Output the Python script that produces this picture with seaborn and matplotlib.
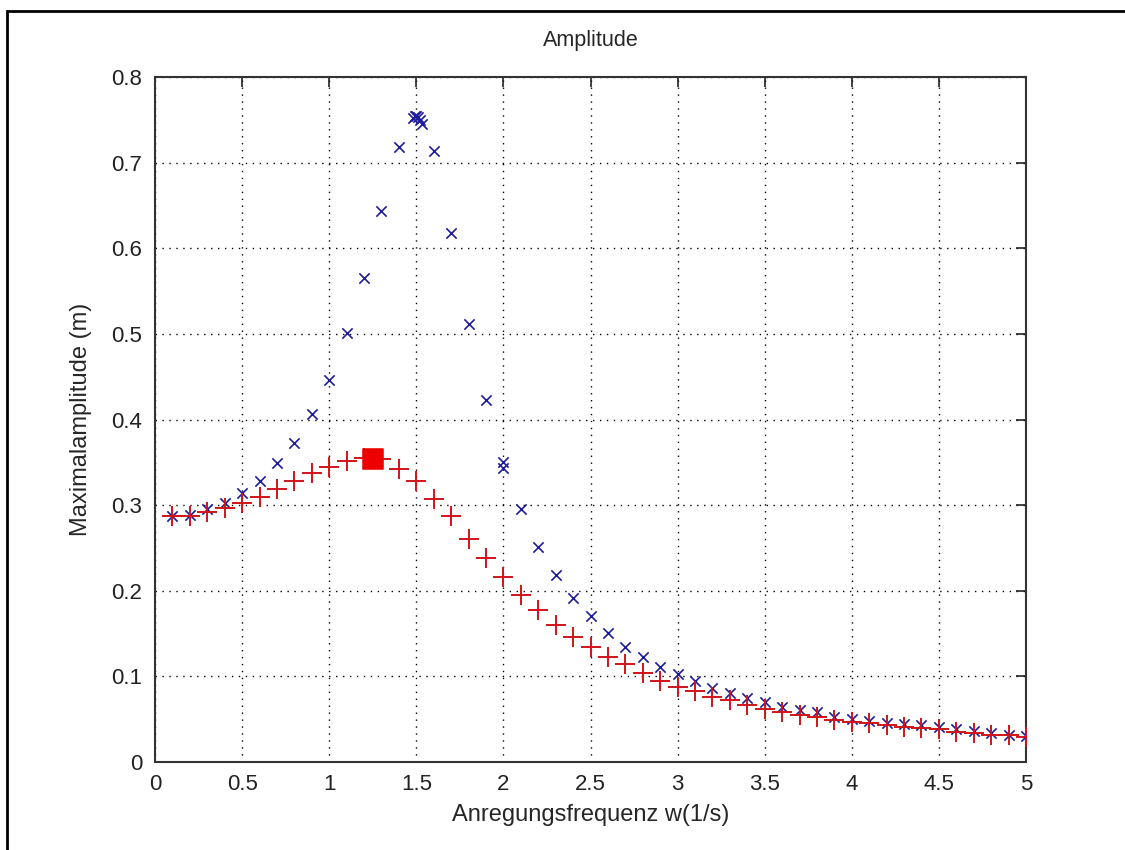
import numpy as np
import pandas as pd
import seaborn as sns
from matplotlib import pyplot as plt
from matplotlib.patches import Rectangle

# Anregungsfrequenz (1/s) und Maximalamplitude (m)
w_red = [0.1, 0.2, 0.3, 0.4, 0.5, 0.6, 0.7, 0.8, 0.9, 1.0,
         1.1, 1.2, 1.3, 1.4, 1.5, 1.6, 1.7, 1.8, 1.9, 2.0,
         2.1, 2.2, 2.3, 2.4, 2.5, 2.6, 2.7, 2.8, 2.9, 3.0,
         3.1, 3.2, 3.3, 3.4, 3.5, 3.6, 3.7, 3.8, 3.9, 4.0,
         4.1, 4.2, 4.3, 4.4, 4.5, 4.6, 4.7, 4.8, 4.9, 5.0]
amp_red = [0.287, 0.287, 0.292, 0.297, 0.303, 0.310, 0.319, 0.328, 0.337, 0.344,
           0.351, 0.355, 0.354, 0.342, 0.328, 0.307, 0.287, 0.261, 0.238, 0.216,
           0.195, 0.177, 0.160, 0.146, 0.134, 0.123, 0.114, 0.104, 0.095, 0.088,
           0.083, 0.076, 0.072, 0.067, 0.062, 0.058, 0.055, 0.053, 0.049, 0.047,
           0.045, 0.043, 0.041, 0.040, 0.038, 0.035, 0.034, 0.032, 0.031, 0.029]

w_blue = [0.1, 0.2, 0.3, 0.4, 0.5, 0.6, 0.7, 0.8, 0.9, 1.0,
          1.1, 1.2, 1.3, 1.4, 1.48, 1.49, 1.50, 1.51, 1.52, 1.53,
          1.6, 1.7, 1.8, 1.9, 2.0, 2.0, 2.1, 2.2, 2.3, 2.4,
          2.5, 2.6, 2.7, 2.8, 2.9, 3.0, 3.1, 3.2, 3.3, 3.4,
          3.5, 3.6, 3.7, 3.8, 3.9, 4.0, 4.1, 4.2, 4.3, 4.4,
          4.5, 4.6, 4.7, 4.8, 4.9, 5.0]
amp_blue = [0.287, 0.288, 0.295, 0.303, 0.314, 0.328, 0.349, 0.373, 0.406, 0.446,
            0.501, 0.565, 0.644, 0.718, 0.752, 0.754, 0.754, 0.753, 0.750, 0.745,
            0.714, 0.618, 0.511, 0.423, 0.350, 0.343, 0.296, 0.251, 0.218, 0.191,
            0.170, 0.151, 0.134, 0.123, 0.111, 0.103, 0.095, 0.086, 0.081, 0.075,
            0.070, 0.064, 0.061, 0.058, 0.052, 0.050, 0.048, 0.046, 0.044, 0.043,
            0.041, 0.038, 0.036, 0.034, 0.032, 0.030]

w_max = [1.25]
amp_max = [0.354]

xticks = [0, 0.5, 1, 1.5, 2, 2.5, 3, 3.5, 4, 4.5, 5]
xticklabels = ['0', '0.5', '1', '1.5', '2', '2.5', '3', '3.5', '4', '4.5', '5']
yticks = [0, 0.1, 0.2, 0.3, 0.4, 0.5, 0.6, 0.7, 0.8]
yticklabels = ['0', '0.1', '0.2', '0.3', '0.4', '0.5', '0.6', '0.7', '0.8']

sns.set_style('white')
plt.rcParams['font.family'] = ['Liberation Sans', 'DejaVu Sans']

fig = plt.figure(figsize=(11.25, 8.5), dpi=100)
ax = fig.add_axes([155 / 1125, 1 - 762 / 850, (1026 - 155) / 1125, (762 - 77) / 850])

blue = pd.DataFrame({'w': w_blue, 'amp': amp_blue})
red = pd.DataFrame({'w': w_red, 'amp': amp_red})
peak = pd.DataFrame({'w': w_max, 'amp': amp_max})

sns.scatterplot(data=blue, x='w', y='amp', marker='x', s=55, color='#1c1c9c', linewidth=1.2, ax=ax, zorder=3)
sns.scatterplot(data=red, x='w', y='amp', marker='+', s=190, color='#d01418', linewidth=1.4, ax=ax, zorder=4)
sns.scatterplot(data=peak, x='w', y='amp', marker='s', s=200, color='#ee0000', edgecolor='#ee0000', ax=ax, zorder=5)

ax.set_xlim(0, 5)
ax.set_ylim(0, 0.8)
ax.set_xticks(xticks)
ax.set_xticklabels(xticklabels)
ax.set_yticks(yticks)
ax.set_yticklabels(yticklabels)
ax.grid(True, linestyle=(0, (1, 4)), color='black', linewidth=1.0)
ax.set_axisbelow(True)
ax.tick_params(direction='in', length=7, width=1.2, top=True, right=True,
               labelsize=16, pad=9, colors='#222222')
for s in ax.spines.values():
    s.set_color('#333333')
    s.set_linewidth(1.5)

ax.set_title('Amplitude', fontsize=15.5, pad=22)
ax.set_xlabel('Anregungsfrequenz w(1/s)', fontsize=17, labelpad=6)
ax.set_ylabel('Maximalamplitude (m)', fontsize=17, labelpad=14)

# Rahmen der Abbildung
fig.add_artist(Rectangle((7 / 1125, -0.2), 1.5, 1.2 - 11 / 850, transform=fig.transFigure,
                         fill=False, edgecolor='black', linewidth=2))

fig.savefig('out.png', dpi=100, facecolor='white')
